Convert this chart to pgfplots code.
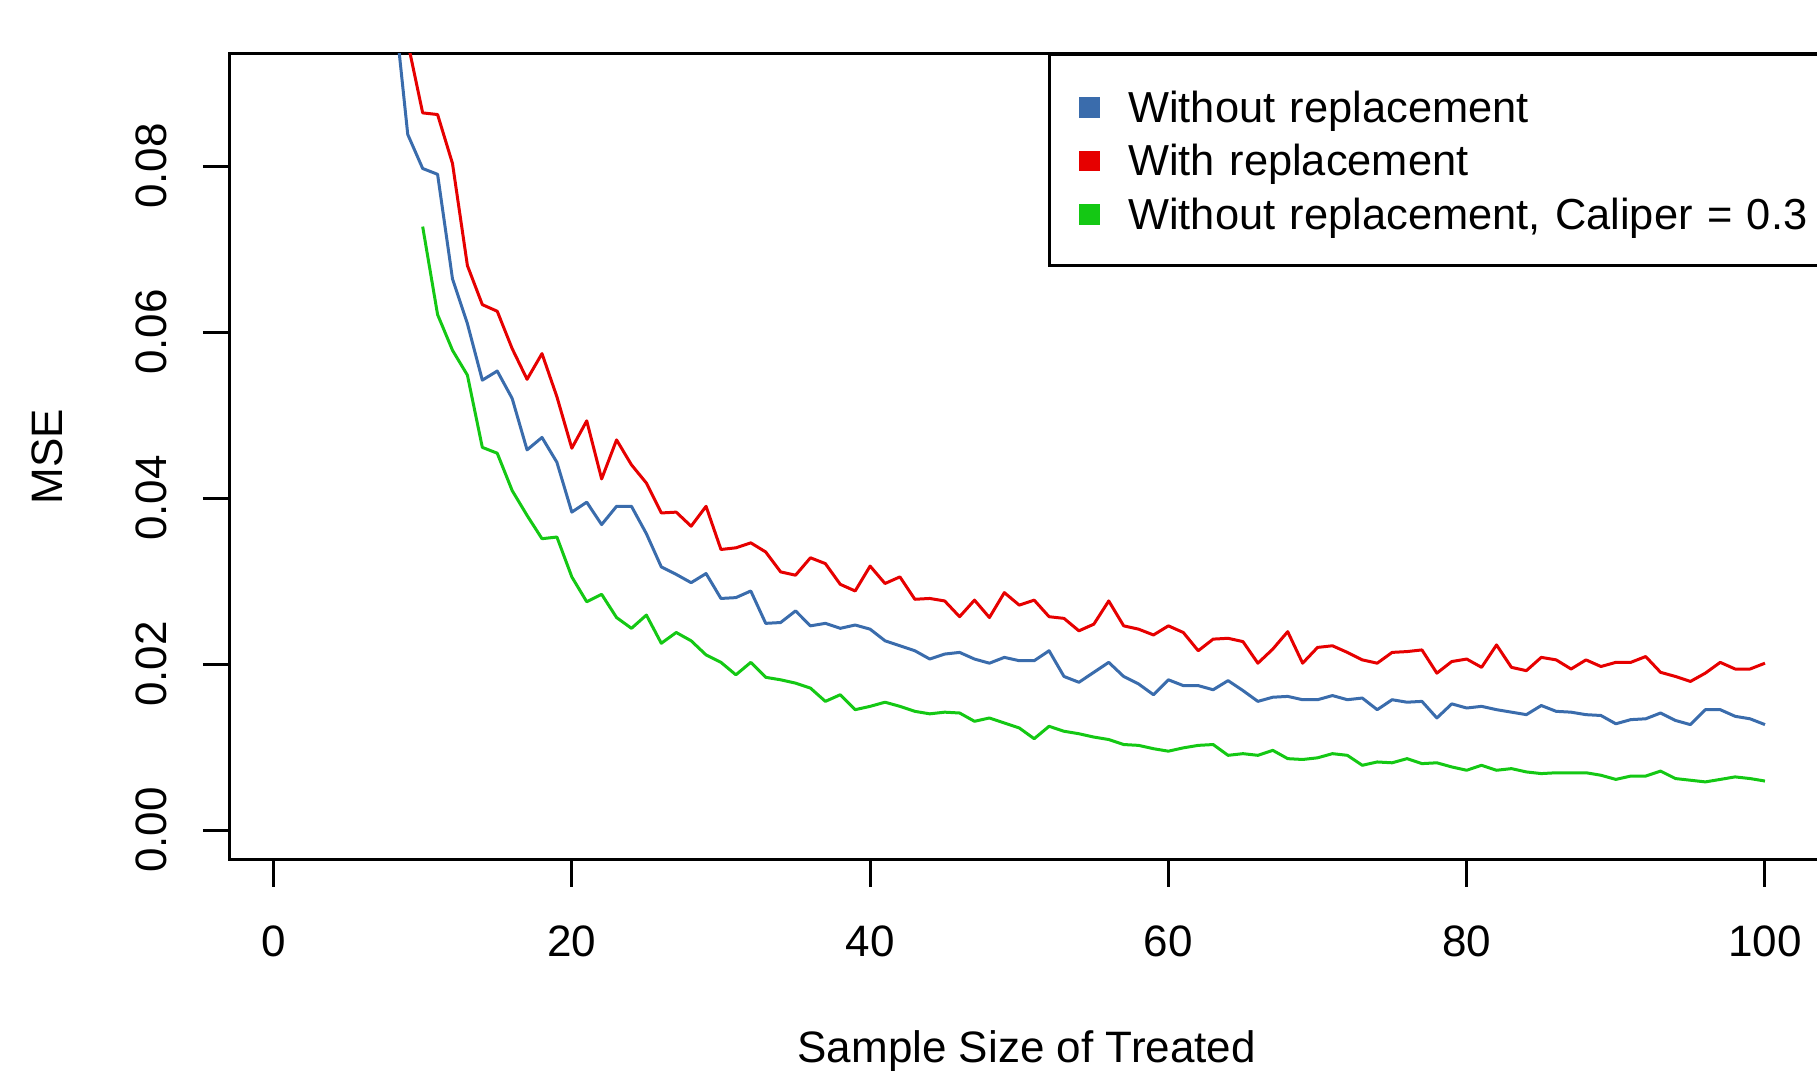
\documentclass[border=0pt]{standalone}
\usepackage{fontspec}
\setmainfont{Liberation Sans}
\usepackage{pgfplots}
\pgfplotsset{compat=1.18}
\definecolor{cblue}{RGB}{58,108,172}
\definecolor{cred}{RGB}{230,0,0}
\definecolor{cgreen}{RGB}{20,200,20}
\begin{document}
\fontsize{11}{13.2}\selectfont
\begin{tikzpicture}
\begin{axis}[
  scale only axis, width=398.65pt, height=201.7pt,
  xmin=-2.96, xmax=103.96, ymin=-0.0036, ymax=0.0936,
  axis line style={line width=0.75pt},
  tick style={line width=0.75pt, black},
  major tick length=6.65pt, tick align=outside, tick pos=left,
  xtick={0,20,40,60,80,100}, xticklabels={0,20,40,60,80,100},
  ytick={0,0.02,0.04,0.06,0.08}, yticklabels={0.00,0.02,0.04,0.06,0.08},
  scaled y ticks=false,
  xticklabel style={anchor=center, yshift=-13.75pt},
  yticklabel style={xshift=-12.75pt, rotate=90, anchor=center},
  xlabel={Sample Size of Treated},
  xlabel style={at={(axis description cs:0.5,-0.2505)}, anchor=base},
  ylabel={MSE},
  ylabel style={at={(axis description cs:-0.1144,0.5)}, anchor=center},
  legend image code/.code={\path[draw=none,fill=none] (0pt,-2.8pt) rectangle (19.8pt,10.6pt); \fill[draw=none] (7.35pt,1.1pt) rectangle (12.6pt,6.25pt);},
  legend style={at={(rel axis cs:0.5131,1)}, anchor=north west, draw=black, line width=0.75pt, fill=white,
    inner xsep=0pt, inner ysep=6.3pt, row sep=0pt, column sep=0pt,
    font=\fontsize{10.85}{13}\selectfont,
    cells={anchor=base west},
    nodes={inner sep=0pt, text width=174.3pt, align=left, text height=10.6pt, text depth=2.8pt}},
  every axis plot/.append style={line width=0.75pt, line join=round},
]
\addplot[cblue] table {
7 0.125
8 0.101
9 0.0838
10 0.0797
11 0.0790
12 0.0664
13 0.0610
14 0.0542
15 0.0553
16 0.0520
17 0.0458
18 0.0473
19 0.0443
20 0.0383
21 0.0395
22 0.0368
23 0.0390
24 0.0390
25 0.0357
26 0.0317
27 0.0308
28 0.0298
29 0.0309
30 0.0279
31 0.0280
32 0.0288
33 0.0249
34 0.0250
35 0.0264
36 0.0246
37 0.0249
38 0.0243
39 0.0247
40 0.0242
41 0.0228
42 0.0222
43 0.0216
44 0.0206
45 0.0212
46 0.0214
47 0.0206
48 0.0201
49 0.0208
50 0.0204
51 0.0204
52 0.0216
53 0.0185
54 0.0178
55 0.0190
56 0.0202
57 0.0185
58 0.0176
59 0.0163
60 0.0181
61 0.0174
62 0.0174
63 0.0169
64 0.0180
65 0.0168
66 0.0155
67 0.0160
68 0.0161
69 0.0157
70 0.0157
71 0.0162
72 0.0157
73 0.0159
74 0.0145
75 0.0157
76 0.0154
77 0.0155
78 0.0135
79 0.0152
80 0.0147
81 0.0149
82 0.0145
83 0.0142
84 0.0139
85 0.0150
86 0.0143
87 0.0142
88 0.0139
89 0.0138
90 0.0128
91 0.0133
92 0.0134
93 0.0141
94 0.0132
95 0.0127
96 0.0145
97 0.0145
98 0.0137
99 0.0134
100 0.0127
};
\addlegendentry{Without replacement}
\addplot[cred] table {
8 0.115
9 0.0949
10 0.0864
11 0.0862
12 0.0803
13 0.0680
14 0.0633
15 0.0625
16 0.0580
17 0.0543
18 0.0574
19 0.0522
20 0.0460
21 0.0493
22 0.0423
23 0.0470
24 0.0440
25 0.0418
26 0.0382
27 0.0383
28 0.0366
29 0.0390
30 0.0338
31 0.0340
32 0.0346
33 0.0335
34 0.0311
35 0.0307
36 0.0328
37 0.0321
38 0.0296
39 0.0288
40 0.0318
41 0.0297
42 0.0305
43 0.0278
44 0.0279
45 0.0276
46 0.0257
47 0.0277
48 0.0256
49 0.0286
50 0.0271
51 0.0277
52 0.0257
53 0.0255
54 0.0240
55 0.0248
56 0.0276
57 0.0246
58 0.0242
59 0.0235
60 0.0246
61 0.0238
62 0.0216
63 0.0230
64 0.0231
65 0.0227
66 0.0201
67 0.0218
68 0.0239
69 0.0201
70 0.0220
71 0.0222
72 0.0214
73 0.0205
74 0.0201
75 0.0214
76 0.0215
77 0.0217
78 0.0189
79 0.0203
80 0.0206
81 0.0196
82 0.0223
83 0.0196
84 0.0192
85 0.0208
86 0.0205
87 0.0194
88 0.0205
89 0.0197
90 0.0202
91 0.0202
92 0.0209
93 0.0190
94 0.0185
95 0.0179
96 0.0189
97 0.0202
98 0.0194
99 0.0194
100 0.0201
};
\addlegendentry{With replacement}
\addplot[cgreen] table {
10 0.0727
11 0.0621
12 0.0578
13 0.0548
14 0.0461
15 0.0454
16 0.0409
17 0.0379
18 0.0351
19 0.0353
20 0.0305
21 0.0275
22 0.0284
23 0.0256
24 0.0243
25 0.0259
26 0.0225
27 0.0238
28 0.0228
29 0.0211
30 0.0202
31 0.0187
32 0.0202
33 0.0184
34 0.0181
35 0.0177
36 0.0171
37 0.0155
38 0.0163
39 0.0145
40 0.0149
41 0.0154
42 0.0149
43 0.0143
44 0.0140
45 0.0142
46 0.0141
47 0.0131
48 0.0135
49 0.0129
50 0.0123
51 0.0110
52 0.0125
53 0.0119
54 0.0116
55 0.0112
56 0.0109
57 0.0103
58 0.0102
59 0.0098
60 0.0095
61 0.0099
62 0.0102
63 0.0103
64 0.0090
65 0.0092
66 0.0090
67 0.0096
68 0.0086
69 0.0085
70 0.0087
71 0.0092
72 0.0090
73 0.0078
74 0.0082
75 0.0081
76 0.0086
77 0.0080
78 0.0081
79 0.0076
80 0.0072
81 0.0078
82 0.0072
83 0.0074
84 0.0070
85 0.0068
86 0.0069
87 0.0069
88 0.0069
89 0.0066
90 0.0061
91 0.0065
92 0.0065
93 0.0071
94 0.0062
95 0.0060
96 0.0058
97 0.0061
98 0.0064
99 0.0062
100 0.0059
};
\addlegendentry{Without replacement, Caliper = 0.3}
\coordinate (BL) at (axis cs:-18.34,-0.02892);
\coordinate (TR) at (axis cs:103.49,0.1);
\end{axis}
\pgfresetboundingbox
\useasboundingbox (BL) rectangle (TR);
\end{tikzpicture}
\end{document}
